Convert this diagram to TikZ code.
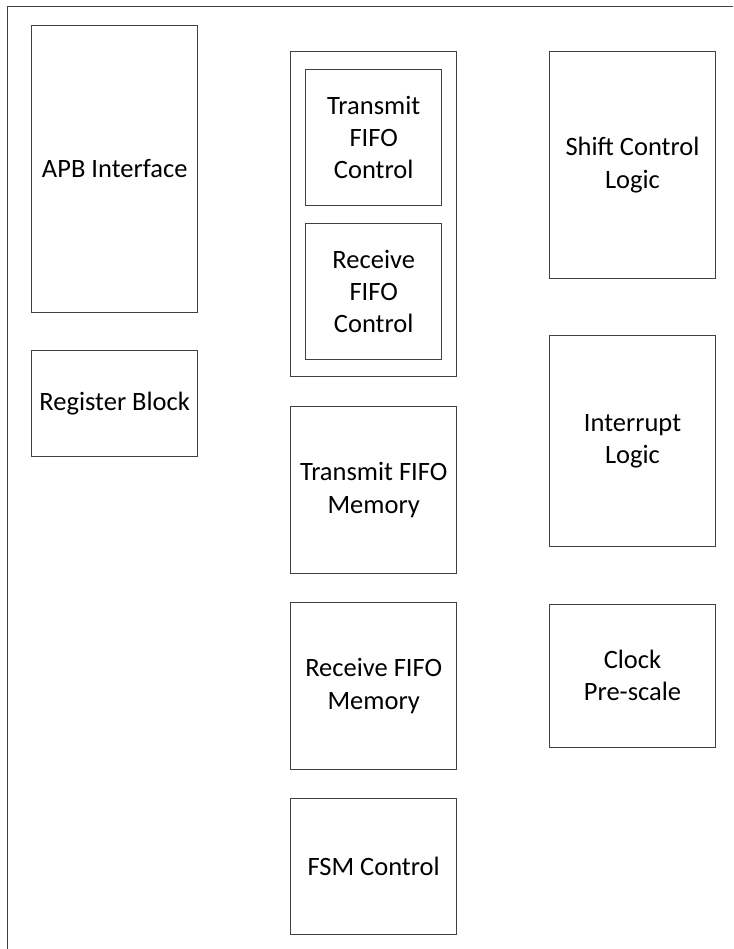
\documentclass[tikz,border=0pt]{standalone}
\usepackage{fontspec}
\setmainfont{Carlito}
\usepackage{tikz}
\usetikzlibrary{positioning}

\newcommand{\blockfont}{\fontsize{26.5}{32.3}\selectfont}
\tikzset{
    block/.style={draw=black!75, line width=1pt, align=center, inner sep=0pt, font=\blockfont},
}

\begin{document}
\begin{tikzpicture}[x=1pt, y=-1pt]
    \useasboundingbox (0, 0) rectangle (733, 949);
    % page frame (only top and left edges show)
    \coordinate (frame_sw) at (7.3, 949);
    \coordinate (frame_nw) at (7.3, 6.7);
    \coordinate (frame_ne) at (733, 6.7);
    \draw[draw=black!75, line width=1pt] (frame_sw) -- (frame_nw) -- (frame_ne);

    % left column
    \node[block, minimum width=166, minimum height=287.3] (apb) at (114.7, 168.7) {APB Interface};
    \node[block, minimum width=166, minimum height=105.3] (regblock) at (114.7, 403.4) {Register Block};

    % middle column
    \node[block, minimum width=166, minimum height=325] (fifo_ctrl) at (373.7, 214.2) {};
    \node[block, minimum width=136, minimum height=136] (tx_ctrl) at (373.7, 137.5) {Transmit\\FIFO\\Control};
    \node[block, minimum width=136, minimum height=136] (rx_ctrl) at (373.7, 291.3) {Receive\\FIFO\\Control};
    \node[block, minimum width=166, minimum height=166.6] (tx_mem) at (373.7, 490) {Transmit FIFO\\Memory};
    \node[block, minimum width=166, minimum height=166.3] (rx_mem) at (373.7, 685.9) {Receive FIFO\\Memory};
    \node[block, minimum width=166, minimum height=136] (fsm) at (373.7, 866.3) {FSM Control};

    % right column
    \node[block, minimum width=166.4, minimum height=226.6] (shift) at (632.5, 165) {Shift Control\\Logic};
    \node[block, minimum width=166.4, minimum height=211] (interrupt) at (632.5, 441.2) {Interrupt\\Logic};
    \node[block, minimum width=166.4, minimum height=143.3] (prescale) at (632.5, 675.7) {Clock\\Pre-scale};
\end{tikzpicture}
\end{document}
